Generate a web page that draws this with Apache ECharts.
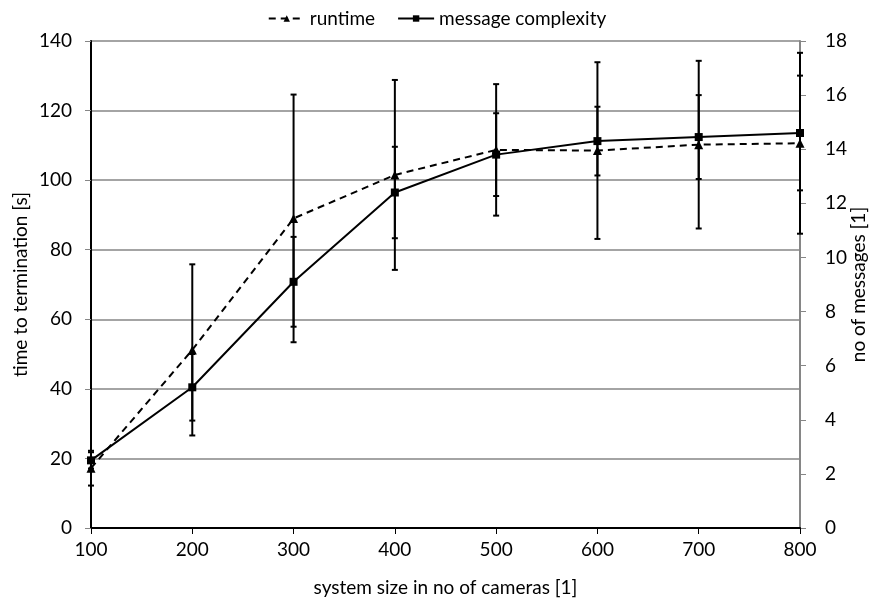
<!DOCTYPE html>
<html>
<head>
<meta charset="utf-8">
<script src="https://cdn.jsdelivr.net/npm/echarts@6/dist/echarts.min.js"></script>
<style>
  html, body { margin: 0; padding: 0; background: #fff; }
  #chart { width: 874px; height: 600px; }
</style>
</head>
<body>
<div id="chart"></div>
<script>
// System size (number of cameras)
const systemSizes = [100, 200, 300, 400, 500, 600, 700, 800];
// Time to termination [s] with standard deviation
const runtime = [17.2, 51.2, 89.0, 101.5, 108.7, 108.5, 110.2, 110.6];
const runtimeErr = [5.0, 24.6, 35.6, 27.3, 18.9, 25.4, 24.1, 26.0];
// Number of messages with standard deviation
const messages = [2.5, 5.2, 9.1, 12.4, 13.8, 14.3, 14.45, 14.6];
const messagesErr = [0.3, 1.23, 1.66, 1.69, 1.53, 1.27, 1.55, 2.12];
// Axis ticks
const leftTicks = { min: 0, max: 140, interval: 20 };
const rightTicks = { min: 0, max: 18, interval: 2 };

const FONT = 'Lato';
const FS = 19;

function pairs(xs, ys) { return xs.map((x, i) => [x, ys[i]]); }
function errRows(xs, ys, es) { return xs.map((x, i) => [x, ys[i] - es[i], ys[i] + es[i]]); }

function renderErrorBar(params, api) {
  const x = api.value(0);
  const lo = api.coord([x, api.value(1)]);
  const hi = api.coord([x, api.value(2)]);
  const cap = 3;
  const style = { stroke: '#000', lineWidth: 2 };
  return {
    type: 'group',
    children: [
      { type: 'line', shape: { x1: lo[0], y1: lo[1], x2: hi[0], y2: hi[1] }, style },
      { type: 'line', shape: { x1: lo[0] - cap, y1: lo[1], x2: lo[0] + cap, y2: lo[1] }, style },
      { type: 'line', shape: { x1: hi[0] - cap, y1: hi[1], x2: hi[0] + cap, y2: hi[1] }, style }
    ]
  };
}

const chart = echarts.init(document.getElementById('chart'), null, { renderer: 'canvas' });
chart.setOption({
  animation: false,
  textStyle: { fontFamily: FONT },
  grid: { left: 91, right: 74, top: 41, bottom: 72, containLabel: false, outerBoundsMode: 'none' },
  legend: {
    top: 4,
    left: 'center',
    itemGap: 22,
    itemWidth: 36,
    itemHeight: 8,
    textStyle: { fontFamily: FONT, fontSize: FS, color: '#000' },
    data: ['runtime', 'message complexity']
  },
  xAxis: {
    type: 'value',
    min: 100, max: 800, interval: 100,
    name: 'system size in no of cameras [1]',
    nameLocation: 'middle',
    nameGap: 50,
    nameMoveOverlap: false,
    nameTextStyle: { fontFamily: FONT, fontSize: FS, color: '#000' },
    axisLine: { onZero: false, lineStyle: { color: '#000', width: 2 } },
    axisTick: { show: true, length: 6, lineStyle: { color: '#000', width: 1 } },
    axisLabel: { fontFamily: FONT, fontSize: FS, color: '#000', margin: 12 },
    splitLine: { show: false }
  },
  yAxis: [
    {
      type: 'value',
      min: leftTicks.min, max: leftTicks.max, interval: leftTicks.interval,
      name: 'time to termination [s]',
      nameLocation: 'middle',
      nameGap: 61,
      nameMoveOverlap: false,
      nameRotate: 90,
      nameTextStyle: { fontFamily: FONT, fontSize: FS, color: '#000' },
      axisLine: { show: true, lineStyle: { color: '#000', width: 2 } },
      axisTick: { show: true, length: 6, lineStyle: { color: '#868686', width: 1 } },
      axisLabel: { fontFamily: FONT, fontSize: FS, color: '#000', margin: 19 },
      splitLine: { show: true, lineStyle: { color: '#868686', width: 1.5 } }
    },
    {
      type: 'value',
      min: rightTicks.min, max: rightTicks.max, interval: rightTicks.interval,
      name: 'no of messages [1]',
      nameLocation: 'middle',
      nameGap: 49,
      nameMoveOverlap: false,
      nameRotate: 90,
      nameTextStyle: { fontFamily: FONT, fontSize: FS, color: '#000' },
      position: 'right',
      axisLine: { show: true, lineStyle: { color: '#868686', width: 2 } },
      axisTick: { show: true, length: 6, lineStyle: { color: '#868686', width: 1 } },
      axisLabel: { fontFamily: FONT, fontSize: FS, color: '#000', margin: 25 },
      splitLine: { show: false }
    }
  ],
  series: [
    {
      name: 'runtime-err',
      type: 'custom',
      yAxisIndex: 0,
      renderItem: renderErrorBar,
      encode: { x: 0, y: [1, 2] },
      data: errRows(systemSizes, runtime, runtimeErr),
      z: 3
    },
    {
      name: 'messages-err',
      type: 'custom',
      yAxisIndex: 1,
      renderItem: renderErrorBar,
      encode: { x: 0, y: [1, 2] },
      data: errRows(systemSizes, messages, messagesErr),
      z: 3
    },
    {
      name: 'runtime',
      type: 'line',
      yAxisIndex: 0,
      data: pairs(systemSizes, runtime),
      symbol: 'triangle',
      symbolSize: 9,
      itemStyle: { color: '#000' },
      lineStyle: { color: '#000', width: 2, type: [7, 5] },
      z: 4
    },
    {
      name: 'message complexity',
      type: 'line',
      yAxisIndex: 1,
      data: pairs(systemSizes, messages),
      symbol: 'rect',
      symbolSize: 8,
      itemStyle: { color: '#000' },
      lineStyle: { color: '#000', width: 2 },
      z: 4
    }
  ]
});
</script>
</body>
</html>
